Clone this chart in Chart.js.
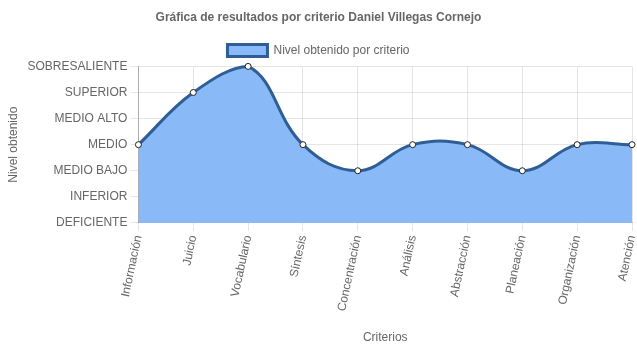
<!DOCTYPE html>
<html>
<head>
<meta charset="utf-8">
<script src="https://cdn.jsdelivr.net/npm/chart.js@4.4.0/dist/chart.umd.min.js"></script>
<style>
  html, body { margin: 0; padding: 0; background: #fff; }
  #wrap { width: 637px; height: 348px; }
</style>
</head>
<body>
<div id="wrap"><canvas id="lineChart"></canvas></div>
<script>
const criterios = [
  "Información",
  "Juicio",
  "Vocabulario",
  "Síntesis",
  "Concentración",
  "Análisis",
  "Abstracción",
  "Planeación",
  "Organización",
  "Atención",
];
const niveles = [
  "DEFICIENTE",
  "INFERIOR",
  "MEDIO BAJO",
  "MEDIO",
  "MEDIO ALTO",
  "SUPERIOR",
  "SOBRESALIENTE",
];
// index into niveles
const resultados = [3, 5, 6, 3, 2, 3, 3, 2, 3, 3];

Chart.defaults.font.family = "'Liberation Sans', Arial, sans-serif";
Chart.defaults.color = "#666";

const ctx = document.getElementById("lineChart").getContext("2d");

const data = {
  labels: criterios,
  datasets: [
    {
      label: "Nivel obtenido por criterio",
      data: resultados,
      backgroundColor: "#8ab9f7",
      borderColor: "#2f5d95",
      borderWidth: 3,
      fill: true,
      tension: 0.4,
      clip: false,
      pointRadius: 3,
      pointBorderWidth: 1,
      pointBackgroundColor: "#fff",
      pointBorderColor: "#222",
    },
  ],
};

const config = {
  type: "line",
  data: data,
  options: {
    responsive: true,
    maintainAspectRatio: false,
    animation: false,
    layout: { padding: { left: 2, right: 2, top: 0, bottom: 0 } },
    plugins: {
      title: {
        display: true,
        text: "Gráfica de resultados por criterio Daniel Villegas Cornejo",
        font: { size: 12, weight: "bold" },
        color: "#666",
        padding: { top: 10, bottom: 12 },
      },
      legend: {
        labels: {
          boxWidth: 40,
          boxHeight: 12,
          font: { size: 12 },
          padding: 8,
        },
      },
      tooltip: { enabled: false },
    },
    scales: {
      y: {
        min: 0,
        max: 6,
        ticks: {
          stepSize: 1,
          font: { size: 12 },
          callback: (v) => niveles[v],
        },
        grid: { color: "rgba(0,0,0,0.1)", tickLength: 8 },
        border: { color: "rgba(0,0,0,0.25)" },
        title: { display: true, text: "Nivel obtenido", font: { size: 12 } },
      },
      x: {
        ticks: {
          minRotation: 78,
          maxRotation: 78,
          font: { size: 12 },
        },
        grid: { color: "rgba(0,0,0,0.1)", tickLength: 8 },
        border: { color: "rgba(0,0,0,0.25)" },
        title: {
          display: true,
          text: "Criterios",
          font: { size: 12 },
          padding: { top: 15, bottom: 3 },
        },
        afterFit: (scale) => {
          scale.paddingRight = 0;
        },
      },
    },
  },
};

const myChart = new Chart(ctx, config);
</script>
</body>
</html>
